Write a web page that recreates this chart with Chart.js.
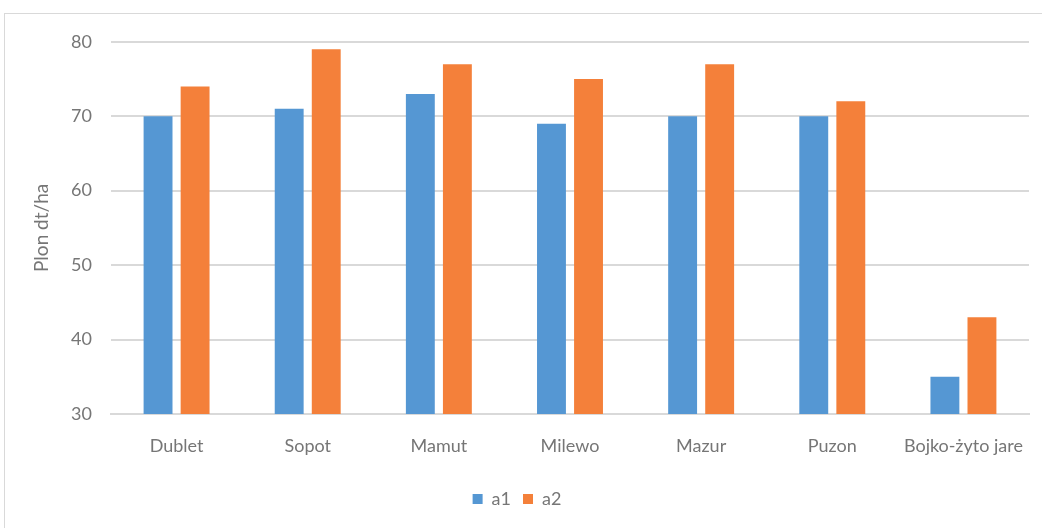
<!DOCTYPE html>
<html>
<head>
<meta charset='utf-8' />
<title>Plon</title>
<script src="https://cdn.jsdelivr.net/npm/chart.js"></script>
<style>
body { margin:0; padding:0; overflow:hidden; background:#ffffff; }
#frame {
  position: absolute;
  left: 4px;
  top: 13px;
  width: 1062px;
  height: 540px;
  border: 1px solid #d9d9d9;
}
#chartBox {
  position: absolute;
  left: 0;
  top: -2px;
  width: 1062px;
  height: 540px;
}
</style>
</head>
<body>
<div id="frame">
  <div id="chartBox"><canvas id="plonChart"></canvas></div>
</div>

<script>

// odmiany
const labels = ["Dublet", "Sopot", "Mamut", "Milewo", "Mazur", "Puzon", "Bojko-żyto jare"];

// plon dt/ha
const a1 = [70, 71, 73, 69, 70, 70, 35];
const a2 = [74, 79, 77, 75, 77, 72, 43];

const yTicks = [30, 40, 50, 60, 70, 80];

const tickColor = '#767676';
const gridColor = '#d9d9d9';
const fontFamily = "Lato, 'Noto Sans', sans-serif";

Chart.defaults.font.family = fontFamily;
Chart.defaults.font.size = 18;
Chart.defaults.color = tickColor;

const ctx = document.getElementById('plonChart');

const plonChart = new Chart(ctx, {
  type: 'bar',
  data: {
    labels: labels,
    datasets: [
      { label: "a1", data: a1, backgroundColor: '#5597d3', categoryPercentage: 0.565, barPercentage: 0.78 },
      { label: "a2", data: a2, backgroundColor: '#f4803a', categoryPercentage: 0.565, barPercentage: 0.78 }
    ]
  },
  options: {
    responsive: true,
    maintainAspectRatio: false,
    animation: false,
    layout: {
      padding: { left: 0, top: 25, right: 38, bottom: 34 }
    },
    plugins: {
      legend: {
        position: 'bottom',
        labels: {
          boxWidth: 10,
          boxHeight: 10,
          padding: 12,
          color: tickColor,
          font: { size: 18 }
        }
      },
      tooltip: { enabled: false }
    },
    scales: {
      x: {
        grid: { display: false, drawTicks: false },
        border: { color: gridColor, width: 2 },
        ticks: { padding: 21, color: tickColor, autoSkip: false, maxRotation: 0 },
        afterFit: (scale) => { scale.height = 64; }
      },
      y: {
        min: 30,
        max: 80,
        afterBuildTicks: (scale) => {
          scale.ticks = yTicks.map(v => ({ value: v }));
        },
        grid: { color: gridColor, lineWidth: 2, drawTicks: false },
        border: { display: false },
        ticks: { padding: 19, color: tickColor },
        title: {
          display: true,
          text: "Plon dt/ha",
          color: tickColor,
          font: { size: 19 },
          padding: { top: 25, bottom: 0 }
        },
        afterFit: (scale) => { scale.width = 106; }
      }
    }
  }
});

</script>
</body>
</html>
